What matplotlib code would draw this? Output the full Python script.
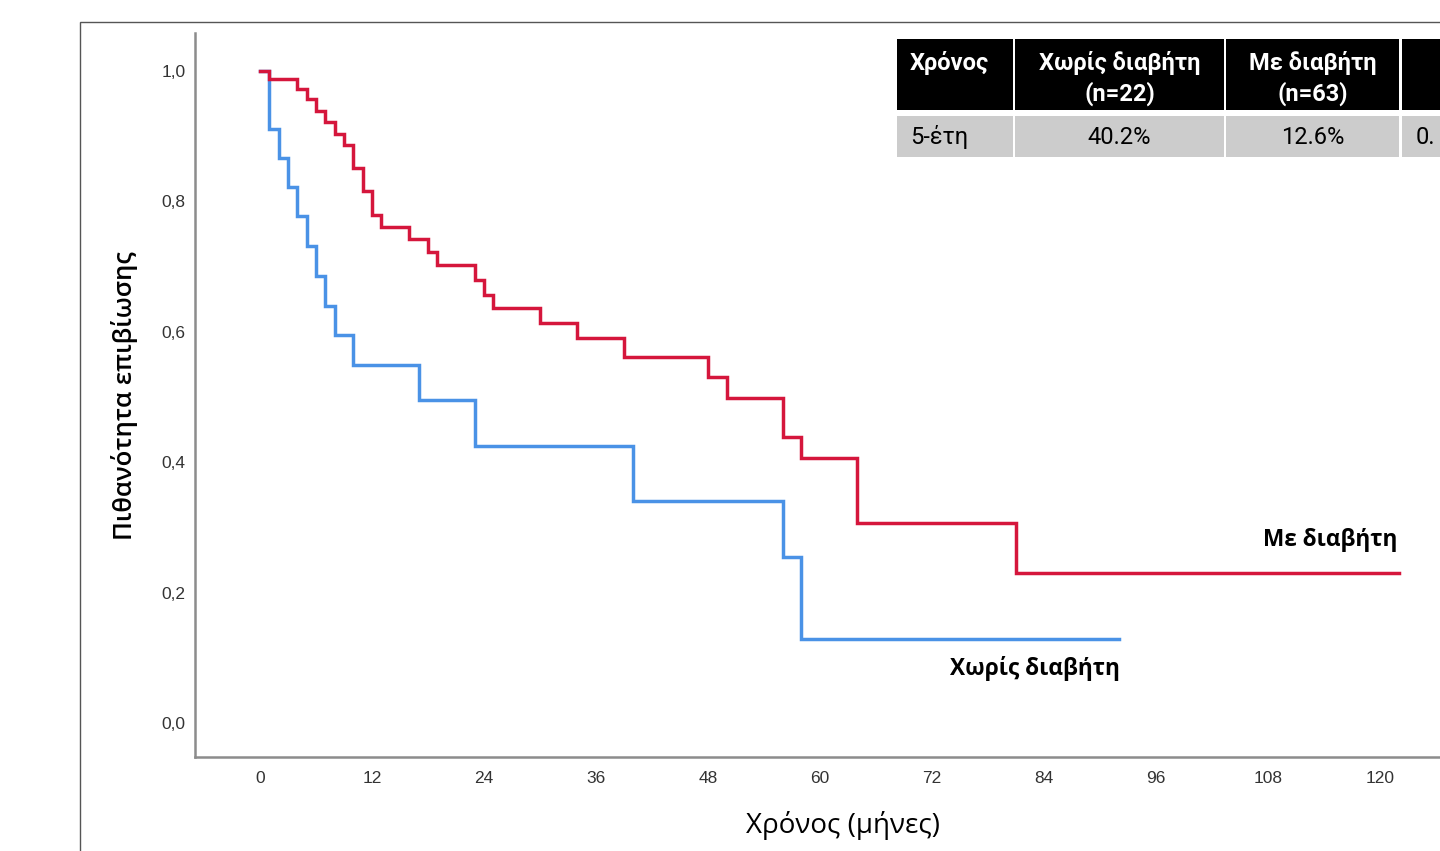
import matplotlib.pyplot as plt
from matplotlib.patches import Rectangle

# survival curves (months, probability)
t_diab = [0, 1, 4, 5, 6, 7, 8, 9, 10, 11, 12, 13, 16, 18, 19, 23, 24, 25, 30, 34, 39, 48, 50, 56, 58, 64, 81, 122]
s_diab = [1.0, 0.988, 0.972, 0.957, 0.939, 0.922, 0.903, 0.887, 0.851, 0.815, 0.779, 0.761, 0.742, 0.722,
          0.702, 0.679, 0.657, 0.636, 0.613, 0.590, 0.562, 0.530, 0.498, 0.438, 0.406, 0.306, 0.230, 0.230]

t_nodiab = [0, 1, 2, 3, 4, 5, 6, 7, 8, 10, 17, 23, 40, 56, 58, 92]
s_nodiab = [1.0, 0.911, 0.867, 0.822, 0.778, 0.732, 0.686, 0.640, 0.595, 0.549, 0.495, 0.425, 0.340, 0.255,
            0.129, 0.129]

x_ticks = [0, 12, 24, 36, 48, 60, 72, 84, 96, 108, 120]
y_ticks = [0.0, 0.2, 0.4, 0.6, 0.8, 1.0]

# table in the corner (last column is cut by the image edge)
tab_header = ["Χρόνος", "Χωρίς διαβήτη\n(n=22)", "Με διαβήτη\n(n=63)", ""]
tab_row = ["5-έτη", "40.2%", "12.6%", "0."]

RED = "#d5163c"
BLUE = "#4a92e6"
W, H = 1440, 851

fig = plt.figure(figsize=(14.4, 8.51), dpi=100)

def fx(px):
    return px / W

def fy(py):
    return 1 - py / H

# outer frame (cut by the image edges)
fig.patches.append(Rectangle((fx(80), -0.1), 1.2, fy(22) + 0.1, transform=fig.transFigure,
                             fill=False, edgecolor="#555555", lw=1.0))

ax = fig.add_axes([fx(195), fy(757), 1 - fx(195), fy(33) - fy(757)])
ax.set_xlim(-6.96, 126.4)
ax.set_ylim(-0.052, 1.058)

ax.step(t_nodiab, s_nodiab, where="post", color=BLUE, lw=2.5, solid_joinstyle="miter")
ax.step(t_diab, s_diab, where="post", color=RED, lw=2.5, solid_joinstyle="miter")

for side in ["top", "right"]:
    ax.spines[side].set_visible(False)
for side in ["left", "bottom"]:
    ax.spines[side].set_color("#8c8c8c")
    ax.spines[side].set_linewidth(1.8)

ax.set_xticks(x_ticks)
ax.set_yticks(y_ticks)
ax.set_yticklabels([f"{v:.1f}".replace(".", ",") for v in y_ticks])
ax.tick_params(length=0, labelsize=12.5, labelcolor="#333333")
ax.tick_params(axis="x", pad=10)
ax.tick_params(axis="y", pad=7)
for lab in ax.get_xticklabels() + ax.get_yticklabels():
    lab.set_fontfamily("Liberation Sans")

fig.text(fx(843), fy(826), "Χρόνος (μήνες)", family="Open Sans", fontsize=20,
         ha="center", va="center")
fig.text(fx(125), fy(396), "Πιθανότητα επιβίωσης", family="Open Sans", fontsize=18.5,
         fontweight="semibold", rotation=90, ha="center", va="center")

ax.text(121.8, 0.281, "Με διαβήτη", family="Open Sans", fontsize=16.3, fontweight="bold",
        ha="right", va="center")
ax.text(92.1, 0.083, "Χωρίς διαβήτη", family="Open Sans", fontsize=16.3, fontweight="bold",
        ha="right", va="center")

# table drawn as figure patches
col_edges = [(897, 1013), (1015, 1224), (1226, 1399), (1402, 1520)]
head_y = (39, 110)
row_y = (116, 157)
for i, (x0, x1) in enumerate(col_edges):
    fig.patches.append(Rectangle((fx(x0), fy(head_y[1])), fx(x1) - fx(x0), fy(head_y[0]) - fy(head_y[1]),
                                 transform=fig.transFigure, facecolor="black", edgecolor="none"))
    fig.patches.append(Rectangle((fx(x0), fy(row_y[1])), fx(x1) - fx(x0), fy(row_y[0]) - fy(row_y[1]),
                                 transform=fig.transFigure, facecolor="#cccccc", edgecolor="none"))
    if i == 0:
        hx, ha = fx(x0 + 13), "left"
    elif i == 3:
        hx, ha = fx(1416), "left"
    else:
        hx, ha = fx((x0 + x1) / 2), "center"
    fig.text(hx, fy(51), tab_header[i], color="white", family="Roboto", fontsize=17,
             fontweight="bold", ha=ha, va="top", linespacing=1.35)
    fig.text(hx, fy(137), tab_row[i], color="black", family="Roboto", fontsize=17,
             ha=ha, va="center")

fig.savefig("out.png", dpi=100)
